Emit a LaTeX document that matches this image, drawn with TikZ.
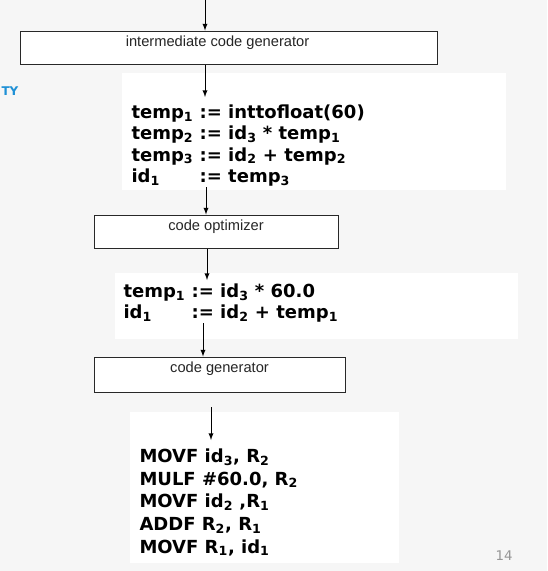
\documentclass[tikz,border=0pt]{standalone}
\usepackage{fontspec}
\setmainfont{DejaVu Sans}
\newfontfamily\phasefont{Liberation Sans}
\usetikzlibrary{arrows}
\definecolor{slidebg}{RGB}{246,246,246}
\definecolor{boxline}{RGB}{40,40,40}
\definecolor{tyblue}{RGB}{30,144,214}
\definecolor{pagegray}{RGB}{150,150,150}
\tikzset{
  phase/.style={draw=boxline,fill=white,inner sep=0pt,minimum height=24.75pt},
  phaselbl/.style={anchor=north,inner sep=0pt,yshift=-3.5pt,text=black!85,font=\phasefont\fontsize{11}{13}\selectfont},
  codebg/.style={fill=white,inner sep=0pt},
  code/.style={anchor=north west,inner sep=0pt,font=\bfseries\fontsize{13.5}{16}\selectfont},
}

\begin{document}
\begin{tikzpicture}[x=0.75pt,y=-0.75pt,>=latex,line width=0.75pt]
\fill[slidebg] (0,0) rectangle (547,571);
\useasboundingbox (0,0) rectangle (547,571);
% white panels behind the code
\node[codebg,minimum width=288pt,minimum height=87.75pt] (bg1) at (314,131.5) {};
\node[codebg,minimum width=302.25pt,minimum height=49.5pt] (bg2) at (316.5,306) {};
\node[codebg,minimum width=201.75pt,minimum height=113.25pt] (bg3) at (264.5,487.5) {};
% phases
\node[phase,minimum width=312.75pt,label={[phaselbl,xshift=-8.25pt]north:intermediate code generator}] (icg) at (228.5,47.5) {};
\node[phase,minimum width=183pt,label={[phaselbl]north:code optimizer}] (opt) at (216,231.5) {};
\node[phase,minimum width=188.25pt,minimum height=26.25pt,label={[phaselbl]north:code generator}] (gen) at (219.5,374.5) {};
% code
\node[code] (ir) at (131,103) {\begin{tabular}{@{}l@{ }l@{}}
temp\textsubscript{1} & := inttofloat(60)\\
temp\textsubscript{2} & := id\textsubscript{3} * temp\textsubscript{1}\\
temp\textsubscript{3} & := id\textsubscript{2} + temp\textsubscript{2}\\
id\textsubscript{1} & := temp\textsubscript{3}
\end{tabular}};
\node[code] (opt code) at (123,282) {\begin{tabular}{@{}l@{ }l@{}}
temp\textsubscript{1} & := id\textsubscript{3} * 60.0\\
id\textsubscript{1} & := id\textsubscript{2} + temp\textsubscript{1}
\end{tabular}};
\node[code,font=\bfseries\fontsize{13.5}{17}\selectfont] (target) at (139,446) {\begin{tabular}{@{}l@{}}
MOVF id\textsubscript{3}, R\textsubscript{2}\\
MULF \#60.0, R\textsubscript{2}\\
MOVF id\textsubscript{2} ,R\textsubscript{1}\\
ADDF R\textsubscript{2}, R\textsubscript{1}\\
MOVF R\textsubscript{1}, id\textsubscript{1}
\end{tabular}};
% extra bits of the slide
\node[anchor=base west,inner sep=0pt,text=tyblue,font=\bfseries\fontsize{9}{11}\selectfont] (ty) at (1,95) {TY};
\node[text=pagegray,font=\fontsize{10}{12}\selectfont] (pgnum) at (504,556) {14};
% arrows
\coordinate (in) at (205,0);
\coordinate (t1) at (205,97);
\coordinate (s2) at (206,187);
\coordinate (t3) at (207,280);
\coordinate (s4) at (203,323);
\coordinate (s5) at (211,407);
\coordinate (t5) at (211,440);
\draw[->] (in) -- (in |- icg.north);
\draw[->] (icg.south -| t1) -- (t1);
\draw[->] (s2) -- (s2 |- opt.north);
\draw[->] (opt.south -| t3) -- (t3);
\draw[->] (s4) -- (s4 |- gen.north);
\draw[->] (s5) -- (t5);
\end{tikzpicture}
\end{document}
